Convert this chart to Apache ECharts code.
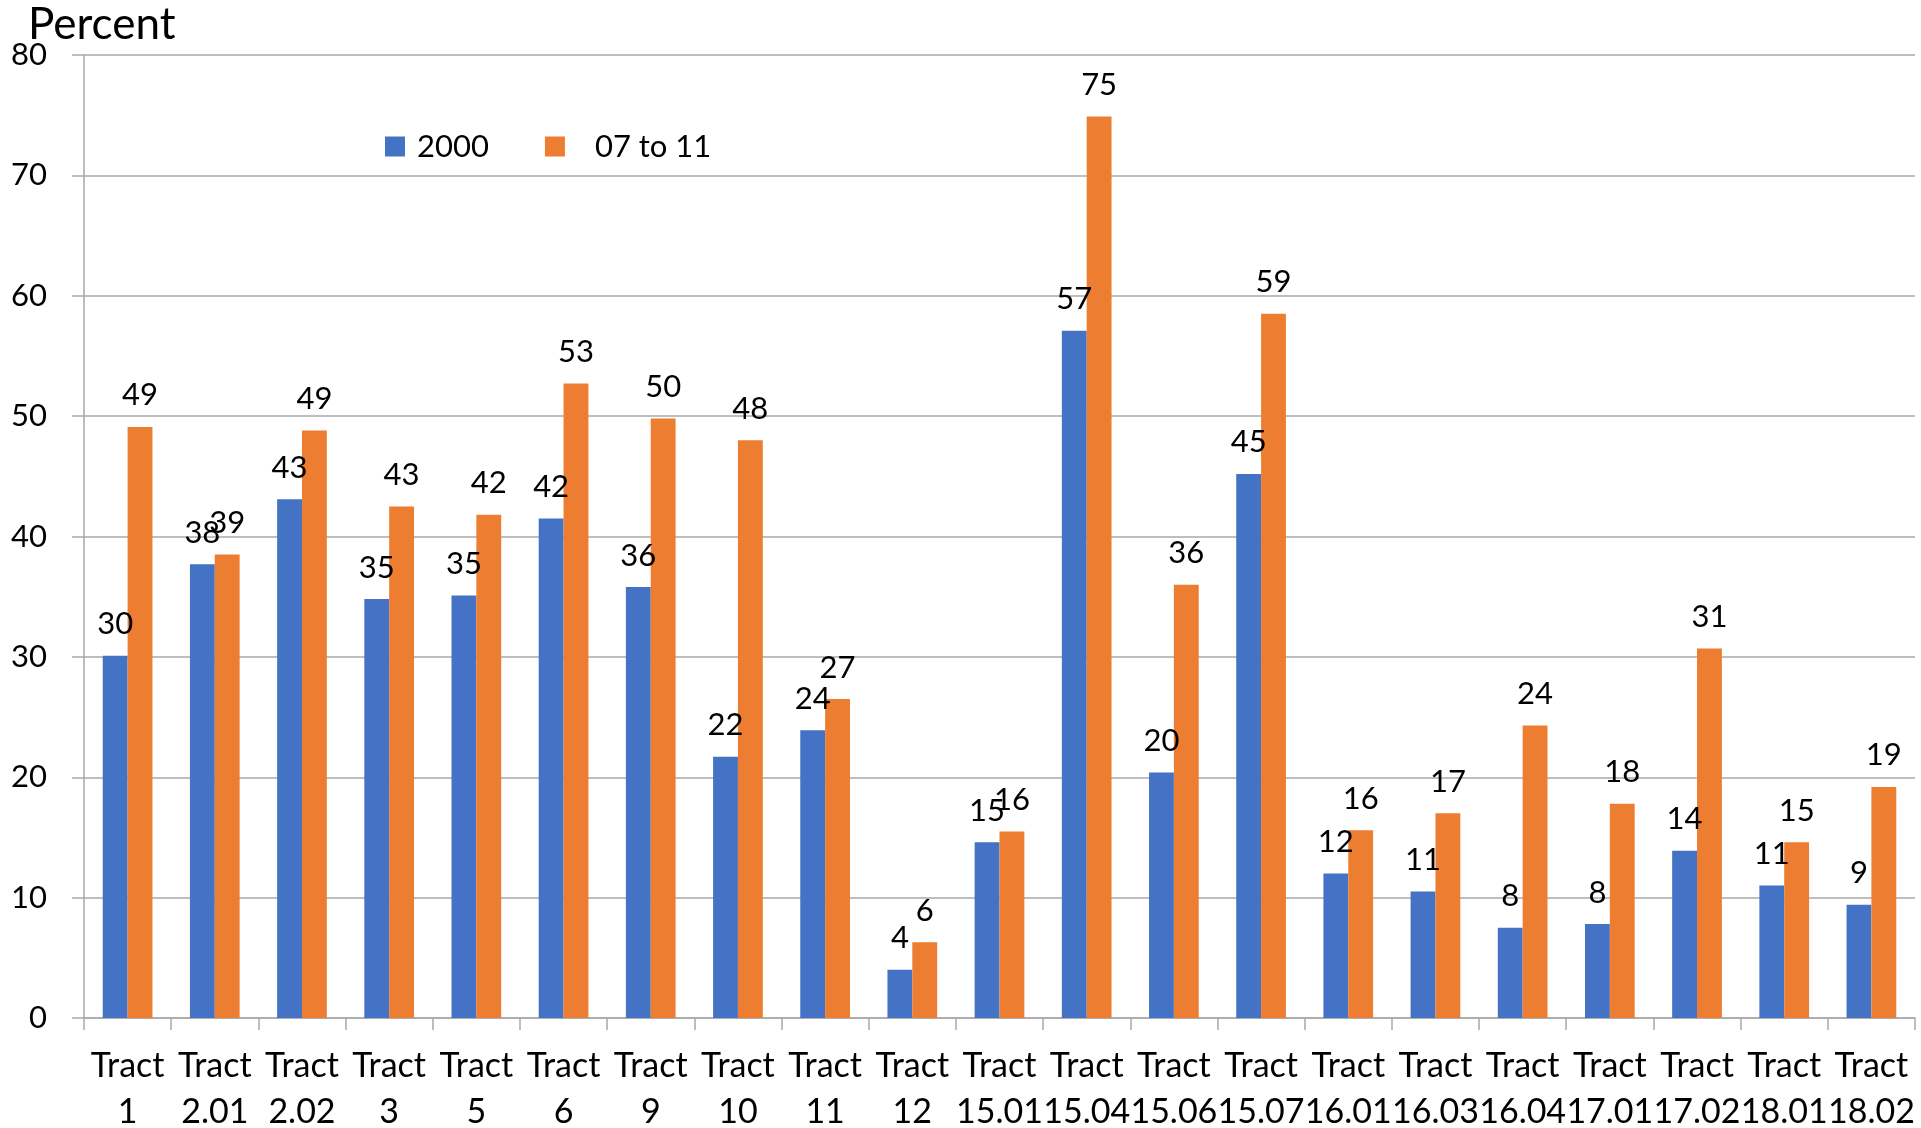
<!DOCTYPE html>
<html>
<head>
<meta charset="utf-8">
<script src="https://cdn.jsdelivr.net/npm/echarts@6/dist/echarts.min.js"></script>
<style>
  html, body { margin: 0; padding: 0; background: #fff; }
  #chart { width: 1921px; height: 1128px; }
</style>
</head>
<body>
<div id="chart"></div>
<script>
const tracts = ["1", "2.01", "2.02", "3", "5", "6", "9", "10", "11", "12", "15.01",
  "15.04", "15.06", "15.07", "16.01", "16.03", "16.04", "17.01", "17.02", "18.01", "18.02"];
const values2000 = [30.1, 37.7, 43.1, 34.8, 35.1, 41.5, 35.8, 21.7, 23.9, 4.0, 14.6,
  57.1, 20.4, 45.2, 12.0, 10.5, 7.5, 7.8, 13.9, 11.0, 9.4];
const values07to11 = [49.1, 38.5, 48.8, 42.5, 41.8, 52.7, 49.8, 48.0, 26.5, 6.3, 15.5,
  74.9, 36.0, 58.5, 15.6, 17.0, 24.3, 17.8, 30.7, 14.6, 19.2];
const seriesNames = ["2000", "07 to 11"];
const yTicks = { min: 0, max: 80, interval: 10 };

const font = "Lato, 'Open Sans', sans-serif";
const gridColor = "#a9a9a9";

const chart = echarts.init(document.getElementById("chart"));

function barSeries(name, data, color) {
  return {
    name: name,
    type: "bar",
    data: data,
    barGap: "0%",
    barCategoryGap: "43%",
    itemStyle: { color: color },
    label: {
      show: true,
      position: "top",
      distance: 16,
      color: "#000",
      fontFamily: font,
      fontSize: 31,
      formatter: p => Math.round(p.value)
    }
  };
}

chart.setOption({
  animation: false,
  backgroundColor: "#fff",
  title: {
    text: "Percent",
    left: 28,
    top: 3,
    padding: 0,
    textStyle: { fontFamily: font, fontSize: 44, fontWeight: "normal", color: "#000" }
  },
  legend: {
    data: seriesNames,
    left: 385,
    top: 131,
    padding: 0,
    icon: "rect",
    itemWidth: 20,
    itemHeight: 20,
    itemGap: 56,
    formatter: n => (n === seriesNames[1] ? "{g|}" : "") + n,
    textStyle: {
      fontFamily: font, fontSize: 31, color: "#000", padding: [0, 0, 0, 7],
      rich: { g: { width: 18 } }
    }
  },
  grid: { left: 84, right: 6, top: 55, bottom: 110, containLabel: false, outerBoundsMode: "none" },
  xAxis: {
    type: "category",
    data: tracts.map(t => "Tract\n" + t),
    axisLine: { lineStyle: { color: gridColor, width: 1.5 } },
    axisTick: { show: true, length: 12, lineStyle: { color: gridColor, width: 1.5 } },
    axisLabel: {
      interval: 0,
      margin: 25,
      color: "#000",
      fontFamily: font,
      fontSize: 34,
      lineHeight: 46
    }
  },
  yAxis: {
    type: "value",
    min: yTicks.min,
    max: yTicks.max,
    interval: yTicks.interval,
    axisLine: { show: true, lineStyle: { color: gridColor, width: 1.5 } },
    axisTick: { show: true, length: 12, lineStyle: { color: gridColor, width: 1.5 } },
    splitLine: { show: true, lineStyle: { color: gridColor, width: 1.5 } },
    axisLabel: { margin: 37, color: "#000", fontFamily: font, fontSize: 31 }
  },
  series: [
    barSeries(seriesNames[0], values2000, "#4472C4"),
    barSeries(seriesNames[1], values07to11, "#ED7D31")
  ]
});
</script>
</body>
</html>
